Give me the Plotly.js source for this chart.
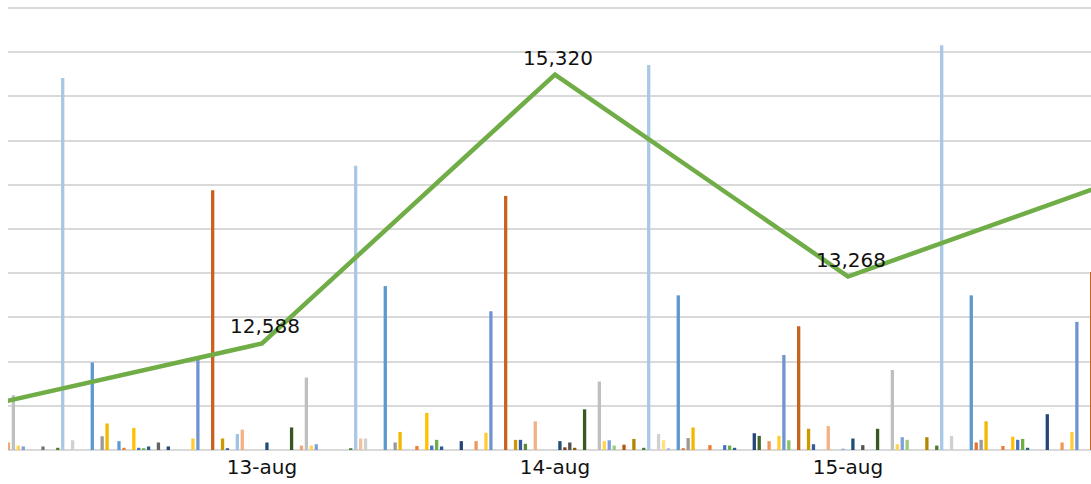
<!DOCTYPE html>
<html>
<head>
<meta charset="utf-8">
<script src="https://cdn.plot.ly/plotly-3.0.1.min.js"></script>
<style>
  html, body { margin: 0; padding: 0; background: #ffffff; }
  #chart { width: 1091px; height: 484px; }
</style>
</head>
<body>
<div id="chart"></div>
<script>
// Categories (dates)
const dates = ['12-aug', '13-aug', '14-aug', '15-aug', '16-aug'];

// Line series (total) (12-aug and 16-aug are off the visible edge)
const totals = [11917, 12588, 15320, 13268, 14330];
// Which totals carry a visible value label in the picture
const labelled = [false, true, true, true, false];

// Bar values per date, one value per series (59 series), in grid units; null = not visible
const aug12 = [null,null,null,null,null,null,null,null,null,null,null,null,null,null,null,null,null,null,null,null,
  null,null,null,null,null,null,null,null,null,null,null,null,null,null,null,null,null,0.17,1.24,0.10,
  0.08,0,0,0,0.08,0,0,0.05,8.42,0,0.22,0,0,0,1.98,0,0.31,0.60,0];
const aug13 = [0.20,0.05,0,0.50,0.05,0.04,0.08,0,0.17,0,0.08,0,0,0,0,0.26,2.10,0,0,5.88,
  0,0.26,0.04,0,0.36,0.46,0,0,0,0,0.17,0,0,0,0,0.51,0,0.10,1.64,0.10,
  0.13,0,0,0,0,0,0,0.04,6.43,0.26,0.26,0,0,0,3.71,0,0.17,0.41,0];
const aug14 = [0,0.09,0,0.84,0.10,0.23,0.08,0,0,0,0.20,0,0,0.20,0,0.39,3.14,0,0,5.75,
  0,0.23,0.23,0.14,0,0.65,0,0,0,0,0.20,0.06,0.17,0.05,0,0.92,0,0,1.55,0.20,
  0.22,0.10,0,0.12,0,0.25,0,0.05,8.71,0,0.36,0.22,0.04,0,3.50,0.04,0.27,0.51,0];
const aug15 = [0,0.11,0,0,0.11,0.10,0.05,0,0,0,0.38,0.32,0,0.20,0,0.32,2.15,0.22,0,2.80,
  0,0.48,0.13,0,0,0.54,0,0,0.03,0,0.26,0,0.11,0,0,0.48,0,0,1.81,0.13,
  0.29,0.23,0,0,0,0.29,0,0.10,9.16,0,0.32,0,0,0,3.50,0.17,0.23,0.65,0];
const aug16 = [0,0.09,0,0.30,0.23,0.25,0.05,0,0,0,0.81,0,0,0.17,0,0.41,2.90,0,0,4.03,
  null,null,null,null,null,null,null,null,null,null,null,null,null,null,null,null,null,null,null,null,
  null,null,null,null,null,null,null,null,null,null,null,null,null,null,null,null,null,null,null];

// Series colours (Office-style palette, 59 series)
const seriesColors = [
  '#5B9BD5','#ED7D31','#A5A5A5','#FFC000','#4472C4','#70AD47',
  '#255E91','#9E480E','#636363','#997300','#264478','#43682B',
  '#7CAFDD','#F1975A','#B7B7B7','#FFCD33','#6F95D1','#8CC168',
  '#327DC2','#C8621E','#848484','#CC9A00','#335AA1','#5A8A39',
  '#9DC3E6','#F4B183','#C9C9C9','#FFD966','#8FAADC','#A9D18E',
  '#1F4E79','#843C0C','#525252','#7F6000','#203864','#385723',
  '#8AB8E0','#F3A677','#BFBFBF','#FFD34D','#7E9FD8','#9CCB7E',
  '#2E6DA4','#B8540F','#737373','#B38600','#2D4F8E','#4E7A31',
  '#A8C8E6','#F6C09A','#D0D0D0','#FFE07F','#A2B8E2','#BCDBA5',
  '#5C99CC','#E37430','#999999','#F2B800','#3F69B8'
];

const FONT = 'DejaVu Sans, Verdana, sans-serif';
const byDate = [aug12, aug13, aug14, aug15, aug16];
const nSeries = seriesColors.length;
const traces = [];
for (let k = 0; k < nSeries; k++) {
  traces.push({
    type: 'bar',
    name: 'Serie ' + (k + 1),
    x: dates,
    y: byDate.map(arr => arr[k]),
    marker: { color: seriesColors[k], line: { width: 0 } },
    hoverinfo: 'skip',
    showlegend: false
  });
}
traces.push({
  type: 'scatter',
  mode: 'lines',
  x: dates,
  y: totals,
  yaxis: 'y2',
  line: { color: '#70AD47', width: 4.5 },
  cliponaxis: true,
  showlegend: false
});

const annotations = [];
dates.forEach((d, i) => {
  if (!labelled[i]) return;
  annotations.push({
    x: d,
    y: totals[i],
    xref: 'x',
    yref: 'y2',
    text: totals[i].toLocaleString('en-US'),
    showarrow: false,
    yshift: 17,
    xshift: 3,
    font: { family: FONT, size: 20, color: '#111111' }
  });
});

const layout = {
  width: 1091,
  height: 484,
  margin: { l: 8, r: 0, t: 7, b: 34 },
  paper_bgcolor: '#ffffff',
  plot_bgcolor: '#ffffff',
  barmode: 'group',
  bargap: 0.007,
  bargroupgap: 0.33,
  showlegend: false,
  annotations: annotations,
  xaxis: {
    type: 'category',
    range: [0.1331, 3.8294],
    showgrid: false,
    showline: false,
    zeroline: false,
    ticks: '',
    ticklabelstandoff: 3,
    tickfont: { family: FONT, size: 20, color: '#111111' }
  },
  yaxis: {
    range: [0, 10.025],
    tickvals: [1, 2, 3, 4, 5, 6, 7, 8, 9, 10],
    showticklabels: false,
    showgrid: true,
    gridcolor: '#D9D9D9',
    gridwidth: 2,
    zeroline: true,
    zerolinecolor: '#D9D9D9',
    zerolinewidth: 2,
    showline: false
  },
  yaxis2: {
    overlaying: 'y',
    side: 'right',
    range: [11506, 16006],
    showgrid: false,
    showticklabels: false,
    zeroline: false,
    showline: false
  }
};

Plotly.newPlot('chart', traces, layout, { staticPlot: true, displayModeBar: false });
</script>
</body>
</html>
